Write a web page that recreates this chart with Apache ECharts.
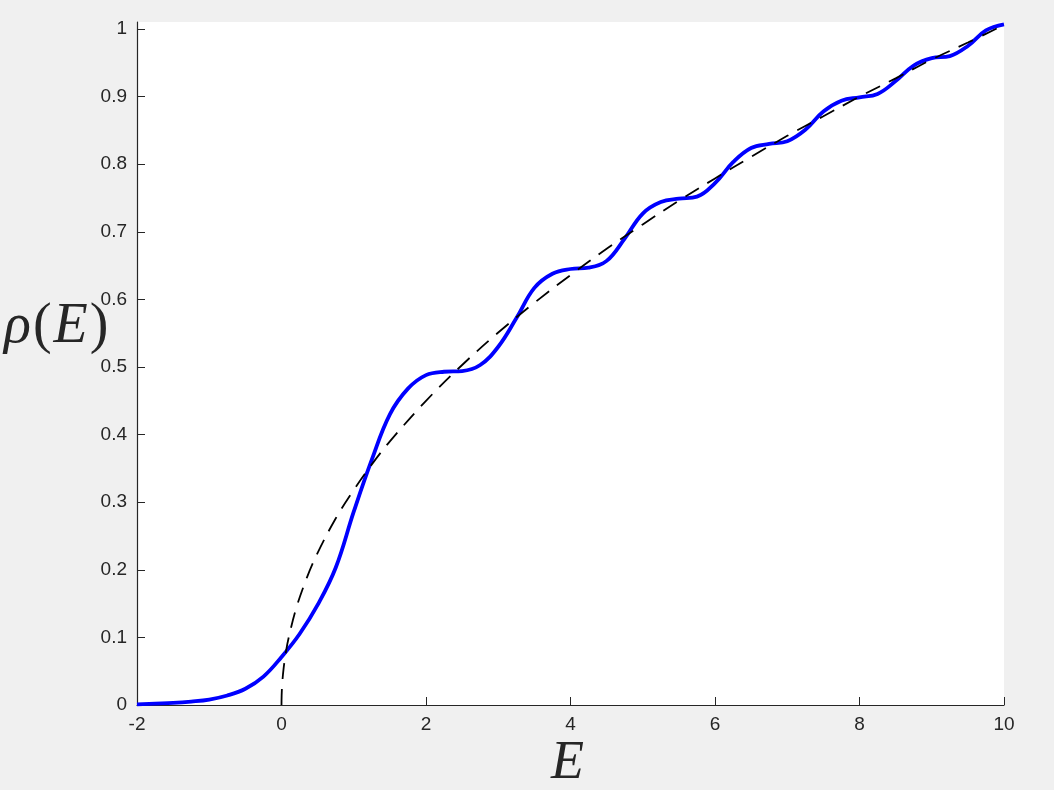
<!DOCTYPE html>
<html>
<head>
<meta charset="utf-8">
<script src="https://cdn.jsdelivr.net/npm/echarts@6/dist/echarts.min.js"></script>
<style>
html,body{margin:0;padding:0;background:#f0f0f0;}
#chart{width:1054px;height:790px;}
</style>
</head>
<body>
<div id="chart"></div>
<script>
// Blue curve: rho(E)
const blueE = [-2.0,-1.75,-1.5,-1.25,-1.0,-0.75,-0.5,-0.25,0.0,0.25,0.5,0.75,1.0,1.25,1.5,1.75,2.0,2.25,2.5,2.75,3.0,3.25,3.5,3.75,4.0,4.25,4.5,4.75,5.0,5.25,5.5,5.75,6.0,6.25,6.5,6.75,7.0,7.25,7.5,7.75,8.0,8.25,8.5,8.75,9.0,9.25,9.5,9.75,10.0];
const blueRho = [0.001,0.002,0.003,0.005,0.008,0.014,0.024,0.042,0.071,0.105,0.148,0.203,0.286,0.363,0.43,0.468,0.488,0.493,0.494,0.503,0.53,0.572,0.617,0.638,0.645,0.647,0.657,0.69,0.727,0.744,0.749,0.752,0.772,0.803,0.824,0.83,0.834,0.851,0.878,0.894,0.899,0.904,0.923,0.946,0.957,0.96,0.975,0.998,1.007];
// Dashed curve
const dashE = [0,0.002,0.01,0.03,0.06,0.1,0.2,0.35,0.5,0.75,1,1.25,1.5,2,2.5,3,3.5,4,4.5,5,5.5,6,6.5,7,7.5,8,8.5,9,9.5,10];
const dashRho = [0,0.014,0.032,0.055,0.078,0.1,0.142,0.188,0.225,0.276,0.318,0.356,0.39,0.45,0.503,0.551,0.595,0.636,0.675,0.711,0.746,0.779,0.811,0.842,0.871,0.9,0.927,0.955,0.98,1.006];
const yTicks = [0,0.1,0.2,0.3,0.4,0.5,0.6,0.7,0.8,0.9,1];
const xTicks = [-2,0,2,4,6,8,10];

const chart = echarts.init(document.getElementById('chart'));
const axisColor = '#262626';
const tickFont = {color: axisColor, fontSize: 19, fontFamily: 'Liberation Sans, Arial, sans-serif'};
chart.setOption({
  backgroundColor: '#f0f0f0',
  animation: false,
  grid: {left: 137, right: 50, top: 22, bottom: 85, show: true, backgroundColor: '#ffffff', borderWidth: 0},
  xAxis: {
    type: 'value', min: -2, max: 10, interval: 2,
    axisLine: {show: true, onZero: false, lineStyle: {color: axisColor, width: 1.2}},
    axisTick: {show: true, inside: true, length: 8, customValues: xTicks, lineStyle: {color: axisColor, width: 1}},
    axisLabel: Object.assign({margin: 10, customValues: xTicks}, tickFont),
    splitLine: {show: false}
  },
  yAxis: {
    type: 'value', min: 0, max: 1.0104,
    axisLine: {show: true, onZero: false, lineStyle: {color: axisColor, width: 1.2}},
    axisTick: {show: true, inside: true, length: 8, customValues: yTicks, lineStyle: {color: axisColor, width: 1}},
    axisLabel: Object.assign({margin: 10, customValues: yTicks, formatter: v => String(Math.round(v*10)/10)}, tickFont),
    splitLine: {show: false}
  },
  series: [
    {
      type: 'line', showSymbol: false, smooth: 0.35,
      data: dashE.map((e,i)=>[e, dashRho[i]]),
      lineStyle: {color: '#000000', width: 1.8, type: [16, 10]},
      z: 3
    },
    {
      type: 'line', showSymbol: false, smooth: 0.4,
      data: blueE.map((e,i)=>[e, blueRho[i]]),
      lineStyle: {color: '#0000ff', width: 3.8},
      z: 2
    }
  ],
  graphic: [
    {
      type: 'text', left: 4, top: 299,
      style: {
        text: '{i|ρ}{u|(}{i|E}{u|)}',
        rich: {
          i: {fontFamily: 'Liberation Serif, serif', fontStyle: 'italic', fontSize: 56, fill: '#262626'},
          u: {fontFamily: 'Liberation Serif, serif', fontSize: 56, fill: '#262626', padding: [0, 2, 0, 2]}
        }
      }
    },
    {
      type: 'text', left: 551, top: 737,
      style: {text: 'E', fontFamily: 'Liberation Serif, serif', fontStyle: 'italic', fontSize: 54, fill: '#262626'}
    }
  ]
});
</script>
</body>
</html>
